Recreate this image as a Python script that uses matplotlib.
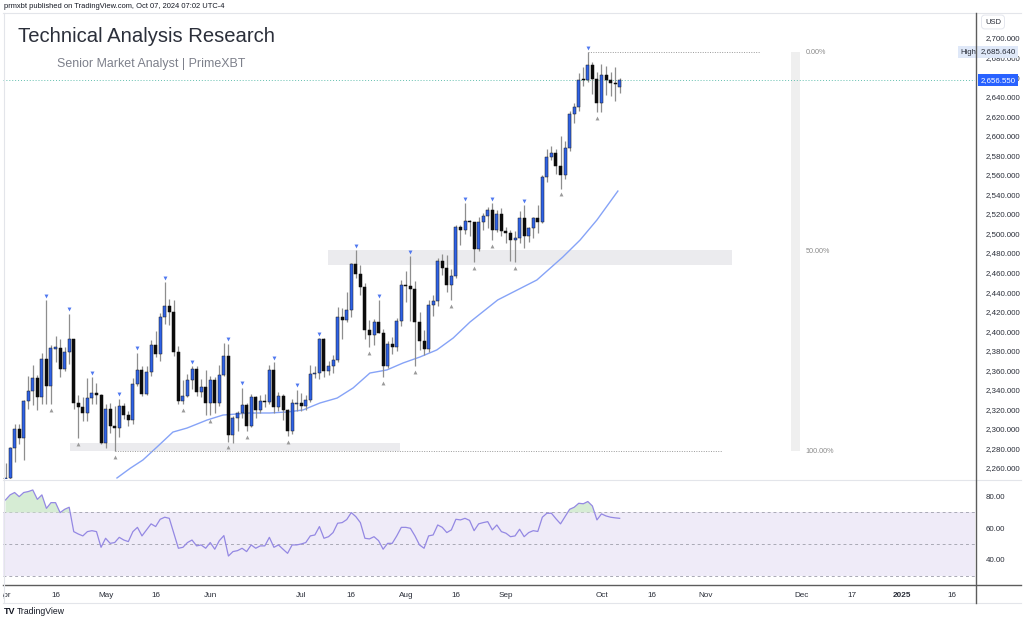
import matplotlib
matplotlib.use('Agg')
import matplotlib.pyplot as plt
from matplotlib.patches import Rectangle
from matplotlib.lines import Line2D
from matplotlib.transforms import Bbox, TransformedBbox, blended_transform_factory
import numpy as np

plt.rcParams['font.family'] = ['Liberation Sans', 'DejaVu Sans']

# ---------------- data (daily candles, Apr 1 - Oct 7 2024) ----------------
opens = [2232, 2250, 2280, 2300, 2291, 2329, 2339, 2352, 2333, 2372,
         2344, 2382, 2383, 2361, 2379, 2392, 2327, 2322, 2316, 2332,
         2337, 2335, 2286, 2320, 2303, 2301, 2323, 2314, 2309, 2346,
         2360, 2336, 2358, 2386, 2377, 2415, 2426, 2420, 2379, 2329,
         2334, 2350, 2361, 2338, 2343, 2327, 2350, 2327, 2355, 2375,
         2294, 2311, 2316, 2324, 2303, 2333, 2319, 2329, 2328, 2360,
         2322, 2334, 2319, 2298, 2326, 2327, 2323, 2330, 2356, 2357,
         2392, 2359, 2364, 2371, 2415, 2411, 2422, 2469, 2459, 2445,
         2401, 2396, 2409, 2398, 2364, 2387, 2384, 2410, 2447, 2446,
         2443, 2409, 2390, 2382, 2427, 2431, 2472, 2465, 2447, 2456,
         2507, 2504, 2513, 2512, 2484, 2512, 2518, 2524, 2504, 2520,
         2503, 2500, 2493, 2495, 2516, 2497, 2506, 2516, 2512, 2558,
         2578, 2582, 2569, 2560, 2587, 2622, 2629, 2658, 2657, 2672,
         2658, 2634, 2662, 2657, 2654, 2650]
highs = [2265, 2281, 2305, 2305, 2330, 2354, 2365, 2355, 2378, 2432,
         2386, 2395, 2392, 2384, 2418, 2392, 2335, 2333, 2352, 2353,
         2347, 2336, 2326, 2327, 2323, 2331, 2327, 2318, 2352, 2378,
         2364, 2364, 2391, 2400, 2419, 2450, 2433, 2432, 2385, 2350,
         2356, 2364, 2364, 2351, 2360, 2354, 2353, 2365, 2388, 2387,
         2313, 2318, 2342, 2327, 2336, 2334, 2335, 2336, 2365, 2368,
         2338, 2336, 2320, 2331, 2340, 2337, 2335, 2365, 2364, 2393,
         2393, 2370, 2376, 2425, 2424, 2440, 2470, 2483, 2468, 2449,
         2411, 2412, 2432, 2402, 2390, 2394, 2413, 2452, 2462, 2477,
         2451, 2420, 2401, 2432, 2437, 2475, 2479, 2478, 2464, 2509,
         2509, 2531, 2514, 2512, 2517, 2521, 2527, 2531, 2524, 2526,
         2507, 2504, 2503, 2523, 2529, 2507, 2517, 2529, 2560, 2586,
         2590, 2586, 2600, 2595, 2625, 2634, 2664, 2670, 2685.64, 2675,
         2665, 2673, 2671, 2665, 2670, 2659]
lows = [2228, 2240, 2266, 2285, 2268, 2320, 2324, 2319, 2326, 2326,
        2325, 2368, 2353, 2359, 2366, 2320, 2291, 2308, 2308, 2326,
        2325, 2285, 2280, 2296, 2277, 2292, 2310, 2303, 2305, 2344,
        2334, 2335, 2354, 2374, 2370, 2407, 2406, 2375, 2326, 2325,
        2333, 2341, 2334, 2333, 2314, 2314, 2316, 2323, 2354, 2287,
        2286, 2298, 2311, 2298, 2302, 2311, 2316, 2322, 2326, 2316,
        2318, 2309, 2293, 2295, 2318, 2318, 2319, 2328, 2352, 2351,
        2353, 2355, 2357, 2368, 2392, 2409, 2415, 2454, 2437, 2392,
        2384, 2386, 2398, 2353, 2362, 2377, 2380, 2405, 2430, 2410,
        2364, 2381, 2376, 2379, 2416, 2426, 2458, 2440, 2432, 2454,
        2488, 2499, 2497, 2471, 2482, 2504, 2506, 2493, 2502, 2497,
        2490, 2472, 2471, 2490, 2485, 2491, 2495, 2500, 2511, 2553,
        2575, 2561, 2546, 2556, 2584, 2613, 2625, 2651, 2655, 2643,
        2624, 2624, 2642, 2641, 2636, 2644]
closes = [2250, 2280, 2300, 2291, 2329, 2339, 2352, 2333, 2372, 2344,
          2383, 2384, 2361, 2379, 2392, 2327, 2322, 2316, 2332, 2337,
          2335, 2286, 2320, 2303, 2301, 2323, 2314, 2309, 2346, 2360,
          2336, 2358, 2386, 2377, 2415, 2426, 2420, 2379, 2329, 2334,
          2350, 2361, 2338, 2343, 2327, 2350, 2327, 2355, 2375, 2294,
          2311, 2316, 2324, 2303, 2333, 2319, 2329, 2328, 2360, 2322,
          2334, 2319, 2298, 2327, 2327, 2323, 2330, 2356, 2357, 2392,
          2359, 2364, 2371, 2415, 2411, 2422, 2469, 2459, 2445, 2401,
          2396, 2409, 2398, 2364, 2387, 2384, 2410, 2447, 2446, 2443,
          2409, 2390, 2382, 2427, 2431, 2472, 2465, 2447, 2456, 2507,
          2504, 2513, 2512, 2484, 2512, 2518, 2524, 2504, 2520, 2503,
          2500, 2493, 2495, 2516, 2497, 2506, 2516, 2512, 2558, 2578,
          2582, 2569, 2560, 2587, 2622, 2629, 2657, 2657, 2672, 2658,
          2634, 2662, 2657, 2654, 2653, 2656.55]

# pivot markers (candle indices)
pivot_high_idx = [9, 14, 19, 25, 29, 35, 41, 49, 52, 59, 64, 69, 77, 82, 89, 101, 107, 114, 128]
pivot_low_idx = [10, 16, 24, 39, 45, 49, 53, 62, 80, 83, 90, 98, 103, 107, 112, 122, 130]

# moving average (candle index, price)
ma_idx = [24.5, 27.4, 30.2, 33.3, 36.8, 39.9, 44.3, 47.8, 53.7, 58.1, 61.9, 65.4, 69.1, 72.9,
          76.4, 80.1, 83.8, 87.4, 91.1, 94.8, 98.4, 102.1, 108.2, 116.8, 122.5, 126.3, 130.0, 134.6]
ma_val = [2249.8, 2259.7, 2268.2, 2281.5, 2296.8, 2300.9, 2309.1, 2314.2, 2316.3, 2316.3, 2317.3,
          2319.4, 2326.5, 2331.6, 2341.9, 2357.2, 2360.3, 2367.5, 2373.6, 2380.8, 2393.0, 2409.4,
          2432.0, 2452.4, 2475.9, 2493.3, 2513.8, 2543.4]

# RSI per candle
rsi = [77.9, 81.1, 82.6, 80.0, 82.6, 83.2, 84.2, 78.3, 81.1, 72.6,
       76.2, 76.2, 69.9, 72.0, 73.3, 57.9, 56.4, 55.2, 57.9, 58.5,
       57.9, 48.0, 53.7, 50.5, 51.0, 54.3, 52.6, 51.6, 57.9, 60.6,
       55.2, 59.0, 62.8, 61.1, 65.7, 67.0, 66.3, 56.9, 47.4, 48.0,
       51.0, 52.6, 48.9, 49.5, 47.4, 51.0, 46.8, 52.2, 55.4, 42.5,
       45.3, 45.9, 47.4, 45.3, 49.5, 47.4, 48.9, 48.9, 54.3, 48.0,
       49.5, 46.8, 44.2, 49.5, 49.5, 50.1, 51.0, 55.2, 55.8, 61.1,
       53.7, 54.7, 57.3, 63.2, 63.6, 65.5, 69.9, 67.4, 63.6, 53.7,
       53.3, 54.7, 52.2, 46.8, 50.5, 50.5, 55.2, 60.6, 60.6, 60.0,
       55.2, 49.5, 47.4, 55.2, 55.8, 62.1, 60.6, 57.3, 59.0, 65.7,
       65.3, 66.3, 65.0, 58.5, 62.8, 63.6, 64.2, 59.0, 62.1, 57.9,
       56.9, 54.7, 55.2, 59.4, 54.7, 57.3, 58.5, 58.0, 67.0, 69.5,
       69.5, 66.0, 62.8, 67.4, 72.0, 73.3, 75.8, 75.5, 76.9, 74.1,
       65.3, 69.1, 67.8, 67.0, 66.6, 66.3]

# zones (start idx, end idx, low, high)
zone_start = [14.2, 70.9]
zone_end = [86.7, 159.7]
zone_low = [2277.4, 2467.7]
zone_high = [2285.6, 2483.1]

# fib retracement
fib_low = 2277.4
fib_high = 2685.64
fib_low_start, fib_low_end = 24, 157.5
fib_high_start, fib_high_end = 128, 165.8
fib_bar_x0, fib_bar_x1 = 172.6, 174.6
fib_label_x = 175.8
fib_levels = [0.0, 0.5, 1.0]
fib_labels = ['0.00%', '50.00%', '100.00%']

price_ticks = list(range(2260, 2701, 20))
rsi_ticks = [40, 60, 80]
date_tick_idx = [0, 11, 22, 33, 45, 65, 76, 88, 99, 110, 131, 142, 154, 175, 186, 197, 208]
date_tick_lbl = ['Apr', '16', 'May', '16', 'Jun', 'Jul', '16', 'Aug', '16', 'Sep',
                 'Oct', '16', 'Nov', 'Dec', '17', '2025', '16']

# ---------------- figure ----------------
W, H = 1024, 619
fig = plt.figure(figsize=(W / 100, H / 100), dpi=100)
fig.patch.set_facecolor('white')


def fx(x):
    return x / W


def fy(y):
    return 1 - y / H


L, R = 3, 975
P_TOP, P_BOT = 13, 479
R_TOP, R_BOT = 480, 585

ax = fig.add_axes([fx(L), fy(P_BOT), (R - L) / W, (P_BOT - P_TOP) / H])
axr = fig.add_axes([fx(L), fy(R_BOT), (R - L) / W, (R_BOT - R_TOP) / H], sharex=ax)

o = np.array(opens, float)
h = np.array(highs, float)
l = np.array(lows, float)
c = np.array(closes, float)
x = np.arange(len(o))
up = c >= o

ax.vlines(x, l, h, color='#8e8e8e', lw=0.9, zorder=3)
body = np.maximum(np.abs(c - o), 0.9)
ax.bar(x[up], body[up], bottom=o[up], width=0.66, color='#2f62e6',
       edgecolor='#1a1a1a', lw=0.35, zorder=4)
ax.bar(x[~up], body[~up], bottom=np.minimum(o, c)[~up], width=0.66, color='#0b0b0b',
       edgecolor='#0b0b0b', lw=0.35, zorder=4)

ax.plot(pivot_high_idx, h[pivot_high_idx] + 4.5, 'v', ms=2.8, color='#4f78f0',
        mec='none', zorder=5)
ax.plot(pivot_low_idx, l[pivot_low_idx] - 6.0, '^', ms=2.8, color='#9a9a9a',
        mec='none', zorder=5)

ax.plot(ma_idx, ma_val, color='#86a3f7', lw=1.0, zorder=2)

for xs, xe, lo, hi in zip(zone_start, zone_end, zone_low, zone_high):
    ax.add_patch(Rectangle((xs, lo), xe - xs, hi - lo, facecolor='#ebebee',
                           edgecolor='none', zorder=1))

ax.add_patch(Rectangle((fib_bar_x0, fib_low), fib_bar_x1 - fib_bar_x0, fib_high - fib_low,
                       facecolor='#efefef', edgecolor='none', zorder=1))
ax.hlines(fib_low, fib_low_start, fib_low_end, colors='#9a9a9a', lw=0.7,
          linestyles=(0, (1, 1.5)), zorder=2)
ax.hlines(fib_high, fib_high_start, fib_high_end, colors='#9a9a9a', lw=0.7,
          linestyles=(0, (1, 1.5)), zorder=2)
for lev, lab in zip(fib_levels, fib_labels):
    yv = fib_high - lev * (fib_high - fib_low)
    ax.text(fib_label_x, yv, lab, fontsize=5.2, color='#8a8a8a', ha='left', va='center')

last = closes[-1]
ax.axhline(last, color='#62bfae', lw=0.7, ls=(0, (1, 2)), zorder=2)

ax.set_xlim(-0.55, 213.1)
ax.set_ylim(2248.76, 2725.58)

for a in (ax, axr):
    for s in a.spines.values():
        s.set_visible(False)
    a.set_facecolor('none')

ax.yaxis.tick_right()
ax.set_yticks(price_ticks)
ax.set_yticklabels([f'{v:,.3f}' for v in price_ticks])
ax.tick_params(axis='y', length=0, pad=8, labelsize=5.7, labelcolor='#2a2e39')
ax.tick_params(axis='x', length=0, labelbottom=False)

# price labels on the axis
bt = blended_transform_factory(ax.transAxes, ax.transData)
ax.text(1.0235, last, f'{last:,.3f}', transform=bt, fontsize=5.7, color='white',
        ha='center', va='center', zorder=10, clip_on=False,
        bbox=dict(boxstyle='square,pad=0.32', fc='#2962ff', ec='none'))
ax.text(1.0235, fib_high, f'{fib_high:,.3f}', transform=bt, fontsize=5.7, color='#2a2e39',
        ha='center', va='center', zorder=10, clip_on=False,
        bbox=dict(boxstyle='square,pad=0.32', fc='#dfe8f8', ec='none'))
ax.text(0.9935, fib_high, 'High', transform=bt, fontsize=5.5, color='#2a2e39',
        ha='center', va='center', zorder=10, clip_on=False,
        bbox=dict(boxstyle='square,pad=0.3', fc='#dfe8f8', ec='none'))

# ---------------- RSI pane ----------------
axr.axhspan(30, 70, color='#efebf8', lw=0, zorder=0)
for lv in (70, 50, 30):
    axr.axhline(lv, color='#a9a9b5', lw=0.7, ls=(0, (3, 3)), zorder=1)
rs = np.array(rsi)
axr.fill_between(x, rs, 70, where=rs > 70, interpolate=True, color='#d6ecd4', lw=0, zorder=1)
axr.plot(x, rs, color='#9488e3', lw=0.9, zorder=3)
axr.set_ylim(24.2, 90.5)
axr.yaxis.tick_right()
axr.set_yticks(rsi_ticks)
axr.set_yticklabels([f'{v:.2f}' for v in rsi_ticks])
axr.tick_params(axis='y', length=0, pad=8, labelsize=5.7, labelcolor='#2a2e39')
axr.set_xticks(date_tick_idx)
axr.set_xticklabels(date_tick_lbl)
axr.tick_params(axis='x', length=0, pad=5, labelsize=5.9, labelcolor='#2a2e39')
clipbox = TransformedBbox(Bbox.from_extents(fx(L), 0, 1, 1), fig.transFigure)
for t in axr.get_xticklabels():
    if t.get_text() == '2025':
        t.set_fontweight('bold')
first = axr.get_xticklabels()[0]
first.set_clip_on(True)
first.set_clip_box(clipbox)

# ---------------- frame lines ----------------
def hline(yp, x0, x1, col, lw):
    fig.add_artist(Line2D([fx(x0), fx(x1)], [fy(yp), fy(yp)], color=col, lw=lw))


def vline(xp, y0, y1, col, lw):
    fig.add_artist(Line2D([fx(xp), fx(xp)], [fy(y0), fy(y1)], color=col, lw=lw))


hline(13, L, 1021, '#e3e5ea', 0.8)
hline(479.5, L, 1021, '#e3e5ea', 0.8)
hline(585, L, 1021, '#5c5c5c', 1.0)
hline(603, L, 1021, '#e3e5ea', 0.8)
vline(L + 0.5, 13, 603, '#e3e5ea', 0.8)
vline(975.5, 13, 603, '#5c5c5c', 1.0)

# ---------------- texts ----------------
fig.text(fx(4), fy(6), 'prmxbt published on TradingView.com, Oct 07, 2024 07:02 UTC-4',
         fontsize=5.4, color='#131722', ha='left', va='center')
fig.text(fx(18), fy(37), 'Technical Analysis Research', fontsize=14.6, color='#2b2f3a',
         ha='left', va='center')
fig.text(fx(57), fy(64), 'Senior Market Analyst | PrimeXBT', fontsize=8.9, color='#7d808b',
         ha='left', va='center')
fig.text(fx(993), fy(22), 'USD', fontsize=5.5, color='#2a2e39', ha='center', va='center',
         bbox=dict(boxstyle='round,pad=0.45,rounding_size=0.4', fc='white', ec='#e0e3eb', lw=0.6))
fig.text(fx(4), fy(611), 'TV', fontsize=6.5, color='#131722', ha='left', va='center',
         fontweight='bold')
fig.text(fx(17), fy(611), 'TradingView', fontsize=6.2, color='#131722', ha='left', va='center')

fig.savefig('out.png', dpi=100, facecolor='white')
